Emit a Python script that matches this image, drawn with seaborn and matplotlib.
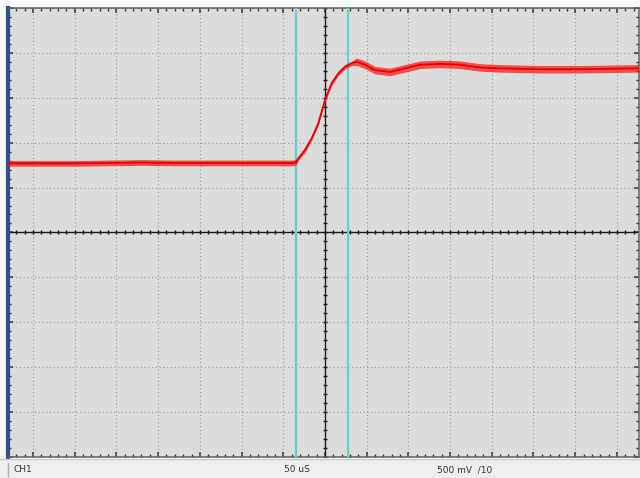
import numpy as np
import pandas as pd
import matplotlib
matplotlib.use("Agg")
import matplotlib.pyplot as plt
import seaborn as sns
from matplotlib.patches import Rectangle
from matplotlib.ticker import MultipleLocator

# ---- data (time in µs, amplitude in V) ----
time_us = [-380, -340, -300, -260, -220, -180, -140, -100, -60, -40, -34.8,
           -32, -24, -16, -8, -4, 0, 8, 16, 24, 32,
           38, 48, 60, 78, 96, 114, 138, 162, 186, 210, 258, 306, 376]
volts = [0.77, 0.77, 0.77, 0.775, 0.78, 0.775, 0.775, 0.775, 0.775, 0.775, 0.78,
         0.826, 0.918, 1.049, 1.216, 1.35, 1.476, 1.663, 1.774, 1.848, 1.886,
         1.904, 1.87, 1.81, 1.79, 1.83, 1.87, 1.88, 1.87, 1.84, 1.83, 1.82, 1.82, 1.83]
noise_hw = [0.032] * 11 + [0.025] * 10 + [0.042] * 13

cursor_times = [-34.8, 27.9]
labels = ["CH1", "50 uS", "500 mV  /10"]

US_PER_DIV = 50
V_PER_DIV = 0.5

# ---- style ----
sns.set_theme(style="white")
plt.rcParams["font.family"] = ["DejaVu Sans"]

fig = plt.figure(figsize=(6.4, 4.78), dpi=100)
fig.patch.set_facecolor("#f7f9fb")

ax = fig.add_axes([8 / 640, (478 - 456.5) / 478, (639 - 8) / 640, (456.5 - 8.3) / 478])
ax.set_facecolor("#dcdcdc")
ax.set_xlim(-380, 376.5)
ax.set_ylim(-2.5, 2.5)

# grid
ax.xaxis.set_major_locator(MultipleLocator(US_PER_DIV))
ax.yaxis.set_major_locator(MultipleLocator(V_PER_DIV))
ax.xaxis.set_minor_locator(MultipleLocator(US_PER_DIV / 5))
ax.yaxis.set_minor_locator(MultipleLocator(V_PER_DIV / 5))
ax.grid(True, which="major", linestyle=(0, (1.0, 2.4)), color="#9a9a9a", linewidth=0.8)
ax.tick_params(which="both", direction="in", top=True, bottom=True, left=True, right=True,
               labelbottom=False, labelleft=False, color="#3a3a3a")
ax.tick_params(which="major", length=3.5, width=1.1)
ax.tick_params(which="minor", length=2.5, width=1)

for side in ["top", "bottom", "right"]:
    ax.spines[side].set_color("#606060")
    ax.spines[side].set_linewidth(1.1)
ax.spines["left"].set_color("#2f4f8c")
ax.spines["left"].set_linewidth(3)

# centre crosshair with small ticks
ax.axhline(0, color="#1a1a1a", linewidth=1.0, zorder=2)
ax.axvline(0, color="#1a1a1a", linewidth=1.0, zorder=2)
xt = np.arange(-380 - (-380 % 10), 377, US_PER_DIV / 5)
yt = np.arange(-2.5, 2.51, V_PER_DIV / 5)
ax.scatter(xt, np.zeros_like(xt), marker="|", s=10, color="#1a1a1a", linewidths=1, zorder=2)
ax.scatter(np.zeros_like(yt), yt, marker="_", s=10, color="#1a1a1a", linewidths=1, zorder=2)

# cursors
for ct in cursor_times:
    ax.axvline(ct, color="#62d2d2", linewidth=1.6, zorder=3)

# trace
df = pd.DataFrame({"t": time_us, "v": volts, "hw": noise_hw})
ax.fill_between(df["t"], df["v"] - df["hw"], df["v"] + df["hw"], color="#ff1a1a", alpha=0.75,
                linewidth=0, zorder=4)
sns.lineplot(data=df, x="t", y="v", ax=ax, color="#e60000", linewidth=1.3, zorder=5,
             estimator=None, sort=False)
ax.set_xlabel("")
ax.set_ylabel("")

# status bar
fig.patches.append(Rectangle((0, 0), 1, (478 - 459) / 478, transform=fig.transFigure,
                             facecolor="#eeeeee", edgecolor="none", zorder=0))
fig.add_artist(plt.Line2D([0, 1], [(478 - 459) / 478] * 2, transform=fig.transFigure,
                          color="#c9c9c9", linewidth=1))
fig.add_artist(plt.Line2D([8 / 640] * 2, [2 / 478, 15 / 478], transform=fig.transFigure,
                          color="#aaaaaa", linewidth=1))
fig.text(14 / 640, 8 / 478, labels[0], fontsize=6.5, color="#333333", va="center")
fig.text(284 / 640, 8 / 478, labels[1], fontsize=6.5, color="#333333", va="center")
fig.text(437 / 640, 8 / 478, labels[2], fontsize=6.5, color="#333333", va="center")

fig.savefig("out.png", dpi=100, facecolor=fig.get_facecolor())
